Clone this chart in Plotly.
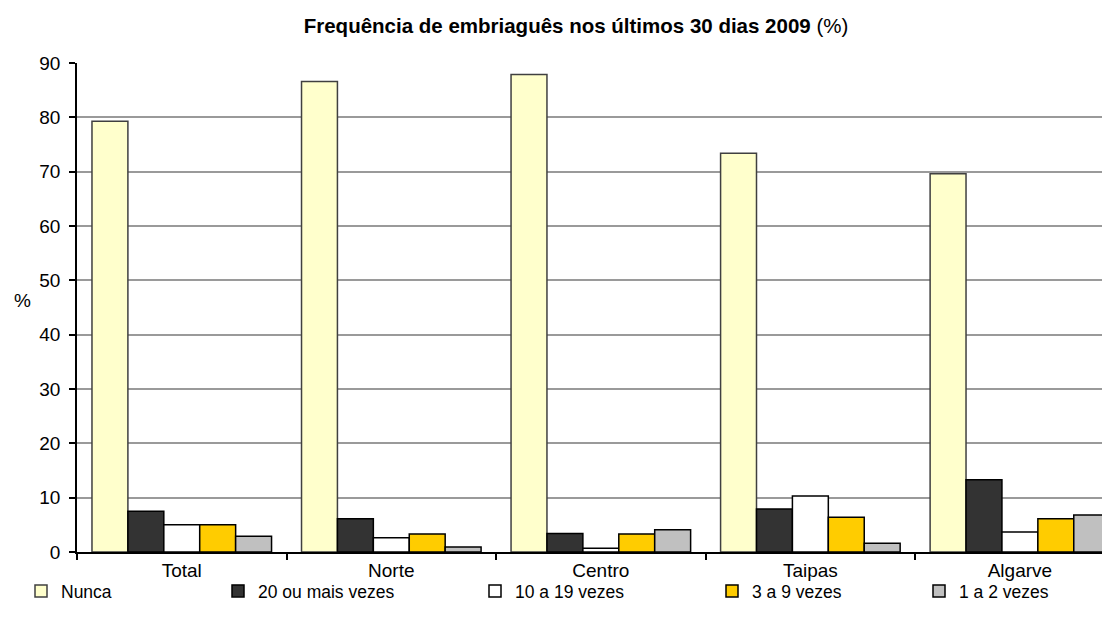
import plotly.graph_objects as go

categories = ["Total", "Norte", "Centro", "Taipas", "Algarve"]
series_names = ["Nunca", "20 ou mais vezes", "10 a 19 vezes", "3 a 9 vezes", "1 a 2 vezes"]
nunca = [79.3, 86.6, 87.9, 73.4, 69.6]
vinte_mais = [7.5, 6.1, 3.4, 7.9, 13.3]
dez_19 = [5.0, 2.6, 0.7, 10.3, 3.7]
tres_9 = [5.0, 3.3, 3.3, 6.4, 6.1]
um_2 = [2.9, 0.9, 4.1, 1.6, 6.8]
y_ticks = [0, 10, 20, 30, 40, 50, 60, 70, 80, 90]

series_values = [nunca, vinte_mais, dez_19, tres_9, um_2]
fills = ["#FFFFCC", "#333333", "#FFFFFF", "#FFCC00", "#C0C0C0"]
edges = ["#404040", "#000000", "#000000", "#000000", "#000000"]

FONT = "Liberation Sans, Arial, sans-serif"
OFF = 8  # page body margin
W, H = 1110 - OFF, 626 - OFF
L, R, T = 77 - OFF, 0, 63 - OFF
plot_bottom = 552 - OFF
B = H - plot_bottom
pw = W - L - R
ph = plot_bottom - T

# legend text start x-positions in page pixels (reference)
legend_text_px = [57, 254, 511, 748, 955]

fig = go.Figure()
for i, (name, vals) in enumerate(zip(series_names, series_values)):
    lg = "legend" if i == 0 else f"legend{i+1}"
    fig.add_trace(go.Bar(
        x=categories, y=vals, name=name,
        marker=dict(color=fills[i], line=dict(color=edges[i], width=1.5)),
        legend=lg,
    ))

layout_legends = {}
for i in range(5):
    key = "legend" if i == 0 else f"legend{i+1}"
    px_left = legend_text_px[i] - 36 - OFF
    layout_legends[key] = dict(
        x=(px_left - L) / pw, xanchor="left",
        y=-((591 - OFF) - plot_bottom) / ph, yanchor="middle",
        orientation="h", bgcolor="rgba(0,0,0,0)",
        font=dict(family=FONT, size=17.5, color="#000000"),
        itemwidth=30,
    )

fig.update_layout(
    width=W, height=H,
    margin=dict(l=L, r=R, t=T, b=B),
    paper_bgcolor="white", plot_bgcolor="white",
    barmode="group", bargap=0.143, bargroupgap=0,
    title=dict(
        text="<b>Frequência de embriaguês nos últimos 30 dias 2009</b> (%)",
        x=(576 - OFF) / W, xanchor="center", xref="container",
        y=1 - (26 - OFF) / H, yanchor="middle", yref="container",
        font=dict(family=FONT, size=20.5, color="#000000"),
    ),
    font=dict(family=FONT, size=17, color="#000000"),
    showlegend=True,
    **layout_legends,
)

fig.update_xaxes(
    type="category", range=[-0.5, 4.43],
    tickson="boundaries", ticks="outside", ticklen=6, tickwidth=1.5, tickcolor="#000000",
    showline=True, linecolor="#000000", linewidth=1.5,
    showgrid=False, tickfont=dict(family=FONT, size=19, color="#000000"),
)
fig.update_yaxes(
    range=[0, 90], tickvals=y_ticks, ticktext=[str(v) for v in y_ticks],
    ticks="outside", ticklen=6, tickwidth=1.5, tickcolor="#000000",
    ticklabelstandoff=5,
    showline=True, linecolor="#000000", linewidth=1.5,
    showgrid=True, gridcolor="#9A9A9A", gridwidth=1.5,
    zeroline=False,
    tickfont=dict(family=FONT, size=19, color="#000000"),
)

fig.add_annotation(
    text="%", xref="paper", yref="paper",
    x=((22 - OFF) - L) / pw, y=(plot_bottom - (300 - OFF)) / ph,
    xanchor="center", yanchor="middle", showarrow=False,
    font=dict(family=FONT, size=19, color="#000000"),
)

fig.write_html("out.html")
